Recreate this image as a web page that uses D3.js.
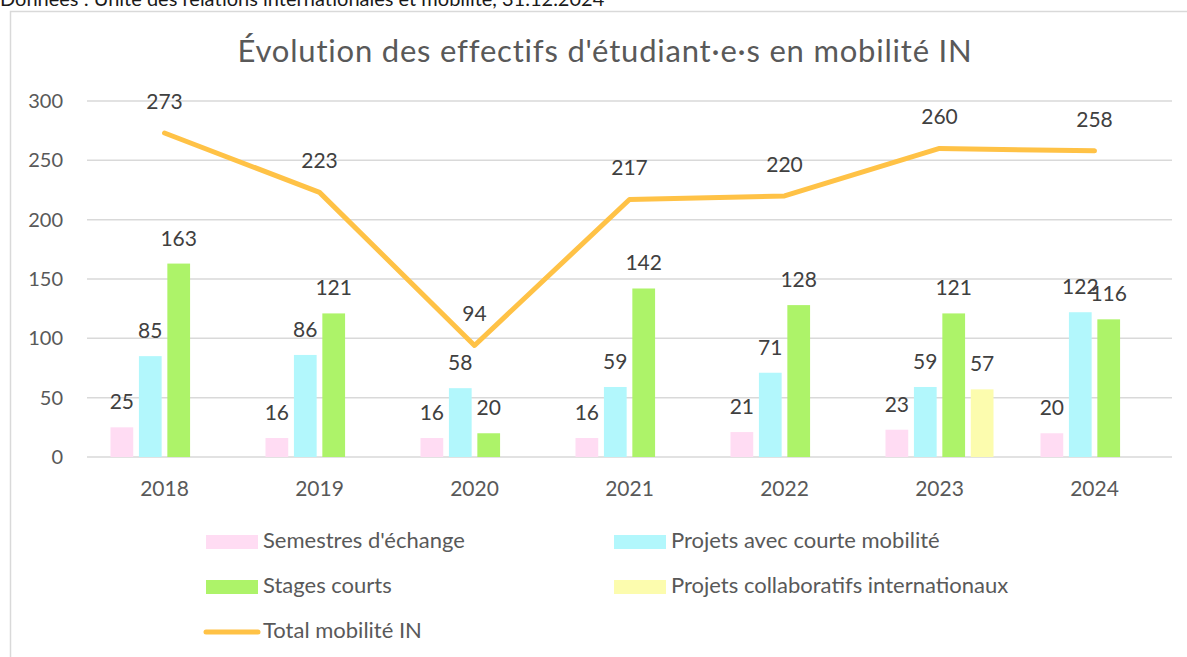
<!DOCTYPE html>
<html>
<head>
<meta charset="utf-8">
<script src="https://cdn.jsdelivr.net/npm/d3@7"></script>
<style>
  body { margin: 0; background: #fff; }
  svg { display: block; font-family: Lato, "Open Sans", sans-serif; }
</style>
</head>
<body>
<svg width="1187" height="657"></svg>
<script>
// donnees
const years = ["2018", "2019", "2020", "2021", "2022", "2023", "2024"]
const semestres = [25, 16, 16, 16, 21, 23, 20]
const projetsCourts = [85, 86, 58, 59, 71, 59, 122]
const stages = [163, 121, 20, 142, 128, 121, 116]
const collaboratifs = [null, null, null, null, null, 57, null]
const total = [273, 223, 94, 217, 220, 260, 258]
const yTicks = [0, 50, 100, 150, 200, 250, 300]

const seriesNames = ["Semestres d'échange", "Projets avec courte mobilité", "Stages courts", "Projets collaboratifs internationaux"]
const seriesValues = [semestres, projetsCourts, stages, collaboratifs]
const colors = ["#ffdcf3", "#b2f7fc", "#adf369", "#fcfcae"]
const lineName = "Total mobilité IN"
const lineColor = "#ffc246"

const svg = d3.select("svg")

// cadre + source
svg.append("rect")
  .attr("x", 10.5).attr("y", 11.5)
  .attr("width", 1300).attr("height", 800)
  .attr("fill", "none").attr("stroke", "#d9d9d9").attr("stroke-width", 1.5)

svg.append("text")
  .attr("x", 0).attr("y", 6)
  .attr("font-size", 20).attr("fill", "#1a1a1a")
  .text("Données : Unité des relations internationales et mobilité, 31.12.2024")

svg.append("text")
  .attr("x", 605).attr("y", 62)
  .attr("text-anchor", "middle")
  .attr("font-size", 31).attr("fill", "#595959")
  .attr("letter-spacing", 0.8)
  .text("Évolution des effectifs d'étudiant·e·s en mobilité IN")

const x0 = d3.scaleBand().domain(years).range([87, 1172]).padding(0)
const y = d3.scaleLinear().domain([0, 300]).range([457, 101])
const x1 = d3.scaleBand().domain(d3.range(4)).range([-54, 54]).paddingInner(0.2)

// grille
svg.append("g")
  .selectAll("line").data(yTicks).join("line")
  .attr("x1", 87).attr("x2", 1172)
  .attr("y1", d => y(d)).attr("y2", d => y(d))
  .attr("stroke", "#d9d9d9").attr("stroke-width", 1.5)

svg.append("g")
  .selectAll("text").data(yTicks).join("text")
  .attr("x", 63).attr("y", d => y(d) + 7)
  .attr("text-anchor", "end")
  .attr("font-size", 20).attr("fill", "#595959")
  .text(d => d)

svg.append("g")
  .selectAll("text").data(years).join("text")
  .attr("x", d => x0(d) + x0.bandwidth() / 2).attr("y", 496)
  .attr("text-anchor", "middle")
  .attr("font-size", 21).attr("fill", "#595959")
  .text(d => d)

// barres
let bars = []
years.forEach((yr, i) => {
  seriesValues.forEach((vals, s) => {
    if (vals[i] != null) bars.push({ yr: yr, s: s, v: vals[i] })
  })
})
const cx = d => x0(d.yr) + x0.bandwidth() / 2 + x1(d.s)

svg.append("g")
  .selectAll("rect").data(bars).join("rect")
  .attr("x", d => cx(d)).attr("width", x1.bandwidth())
  .attr("y", d => y(d.v)).attr("height", d => y(0) - y(d.v))
  .attr("fill", d => colors[d.s])

svg.append("g")
  .selectAll("text").data(bars).join("text")
  .attr("x", d => cx(d) + x1.bandwidth() / 2).attr("y", d => y(d.v) - 18)
  .attr("text-anchor", "middle")
  .attr("font-size", 21).attr("fill", "#404040")
  .text(d => d.v)

// ligne du total
const pts = years.map((yr, i) => ({ yr: yr, v: total[i] }))
const line = d3.line()
  .x(d => x0(d.yr) + x0.bandwidth() / 2)
  .y(d => y(d.v))

svg.append("path")
  .attr("d", line(pts))
  .attr("fill", "none")
  .attr("stroke", lineColor)
  .attr("stroke-width", 5)
  .attr("stroke-linejoin", "round")
  .attr("stroke-linecap", "round")

svg.append("g")
  .selectAll("text").data(pts).join("text")
  .attr("x", d => x0(d.yr) + x0.bandwidth() / 2).attr("y", d => y(d.v) - 24)
  .attr("text-anchor", "middle")
  .attr("font-size", 21).attr("fill", "#404040")
  .text(d => d.v)

// legende
const legX = [206, 614]
const legY = [548, 593, 638]
seriesNames.forEach((name, s) => {
  let lx = legX[s % 2]
  let ly = legY[Math.floor(s / 2)]
  svg.append("rect")
    .attr("x", lx).attr("y", ly - 13)
    .attr("width", 52).attr("height", 14)
    .attr("fill", colors[s])
  svg.append("text")
    .attr("x", lx + 57).attr("y", ly)
    .attr("font-size", 22).attr("fill", "#595959")
    .text(name)
})
svg.append("line")
  .attr("x1", 206).attr("x2", 258)
  .attr("y1", legY[2] - 6).attr("y2", legY[2] - 6)
  .attr("stroke", lineColor).attr("stroke-width", 5)
  .attr("stroke-linecap", "round")
svg.append("text")
  .attr("x", 263).attr("y", legY[2])
  .attr("font-size", 22).attr("fill", "#595959")
  .text(lineName)
</script>
</body>
</html>
